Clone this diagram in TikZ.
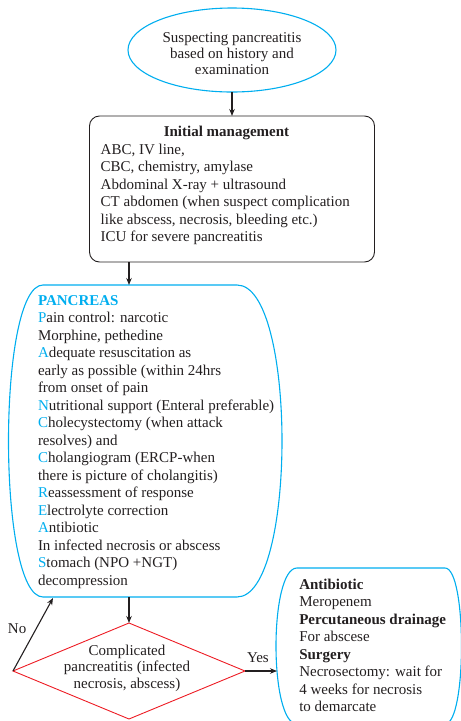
\documentclass[tikz,border=0pt]{standalone}
\usepackage{fontspec}
\setmainfont{Liberation Serif}
\usetikzlibrary{shapes.geometric,arrows.meta}
\definecolor{pcyan}{RGB}{0,174,239}
\definecolor{pred}{RGB}{237,28,36}
\definecolor{ink}{RGB}{35,31,32}
\newcommand{\cy}[1]{\textcolor{pcyan}{#1}}

\begin{document}
% multi-line text nodes are placed by the baseline of their last line
\begin{tikzpicture}[x=1pt,y=-1pt,
  txt/.style={font=\fontsize{15}{17.5}\selectfont, text=ink, inner sep=0pt, outer sep=0pt, align=left, anchor=base west},
  ctxt/.style={txt, align=center, anchor=base},
  flow/.style={draw=ink, line width=1.1pt, -{Stealth[length=7pt,width=5.5pt]}},
  cyanline/.style={draw=pcyan, line width=1.1pt},
]
\useasboundingbox (0,0) rectangle (461,721);
\begin{scope}
\clip (0,0) rectangle (461,721);

% start: suspected pancreatitis
\node[ellipse, cyanline, minimum width=208pt, minimum height=84pt, inner sep=0pt, outer sep=0pt] (start) at (232,50) {};
\node[ctxt, font=\fontsize{15}{15.7}\selectfont] (starttxt) at (232,74.1)
  {Suspecting pancreatitis\\based on history and\\examination};

% initial management
\node[draw=ink, line width=0.9pt, rounded corners=10pt, minimum width=285pt, minimum height=146pt, inner sep=0pt, outer sep=0pt] (init) at (232,189) {};
\node[ctxt] (inittitle) at (226.5,136.7) {\textbf{Initial management}};
\node[txt] (inittxt) at (100.7,241.7)
  {ABC, IV line,\\
   CBC, chemistry, amylase\\
   Abdominal X-ray + ultrasound\\
   CT abdomen (when suspect complication\\
   like abscess, necrosis, bleeding etc.)\\
   ICU for severe pancreatitis};
\draw[flow] (start.south) -- (init.north);

% PANCREAS block with bulging sides
\coordinate (ptop) at (129,285);
\coordinate (pbot) at (129,597);
\coordinate (pnoend) at (53,598);
\draw[cyanline] (43,285) -- (237,285) .. controls (297,285) and (297,597) .. (237,597)
  -- (43,597) .. controls (-3,597) and (-3,285) .. cycle;
\node[txt] (pancreas) at (38,585)
  {\cy{\textbf{PANCREAS}}\\
   \cy{P}ain control: narcotic\\
   Morphine, pethedine\\
   \cy{A}dequate resuscitation as\\
   early as possible (within 24hrs\\
   from onset of pain\\
   \cy{N}utritional support (Enteral preferable)\\
   \cy{C}holecystectomy (when attack\\
   resolves) and\\
   \cy{C}holangiogram (ERCP-when\\
   there is picture of cholangitis)\\
   \cy{R}eassessment of response\\
   \cy{E}lectrolyte correction\\
   \cy{A}ntibiotic\\
   In infected necrosis or abscess\\
   \cy{S}tomach (NPO +NGT)\\
   decompression};
\draw[flow] (init.south -| ptop) -- (ptop);

% decision
\node[diamond, draw=pred, line width=0.9pt, minimum width=232pt, minimum height=96pt, inner sep=0pt, outer sep=0pt] (dec) at (129,671) {};
\node[ctxt, font=\fontsize{15}{16.6}\selectfont] (dectxt) at (127,688.2)
  {Complicated\\pancreatitis (infected\\necrosis, abscess)};
\draw[flow] (pbot) -- (dec.north);

% complicated course
\coordinate (rleft) at (277,671);
\draw[cyanline] (297,568) -- (445,568) .. controls (467,568) and (467,724) .. (445,724)
  -- (297,724) .. controls (269,724) and (269,568) .. cycle;
\node[txt] (comptxt) at (299.3,711.8)
  {\textbf{Antibiotic}\\
   Meropenem\\
   \textbf{Percutaneous drainage}\\
   For abscese\\
   \textbf{Surgery}\\
   Necrosectomy: wait for\\
   4 weeks for necrosis\\
   to demarcate};

\draw[flow] (dec.west) -- (pnoend);
\node[txt] (nolabel) at (8,633) {No};
\draw[flow] (dec.east) -- (rleft);
\node[txt] (yeslabel) at (247,662) {Yes};
\end{scope}
\end{tikzpicture}
\end{document}
